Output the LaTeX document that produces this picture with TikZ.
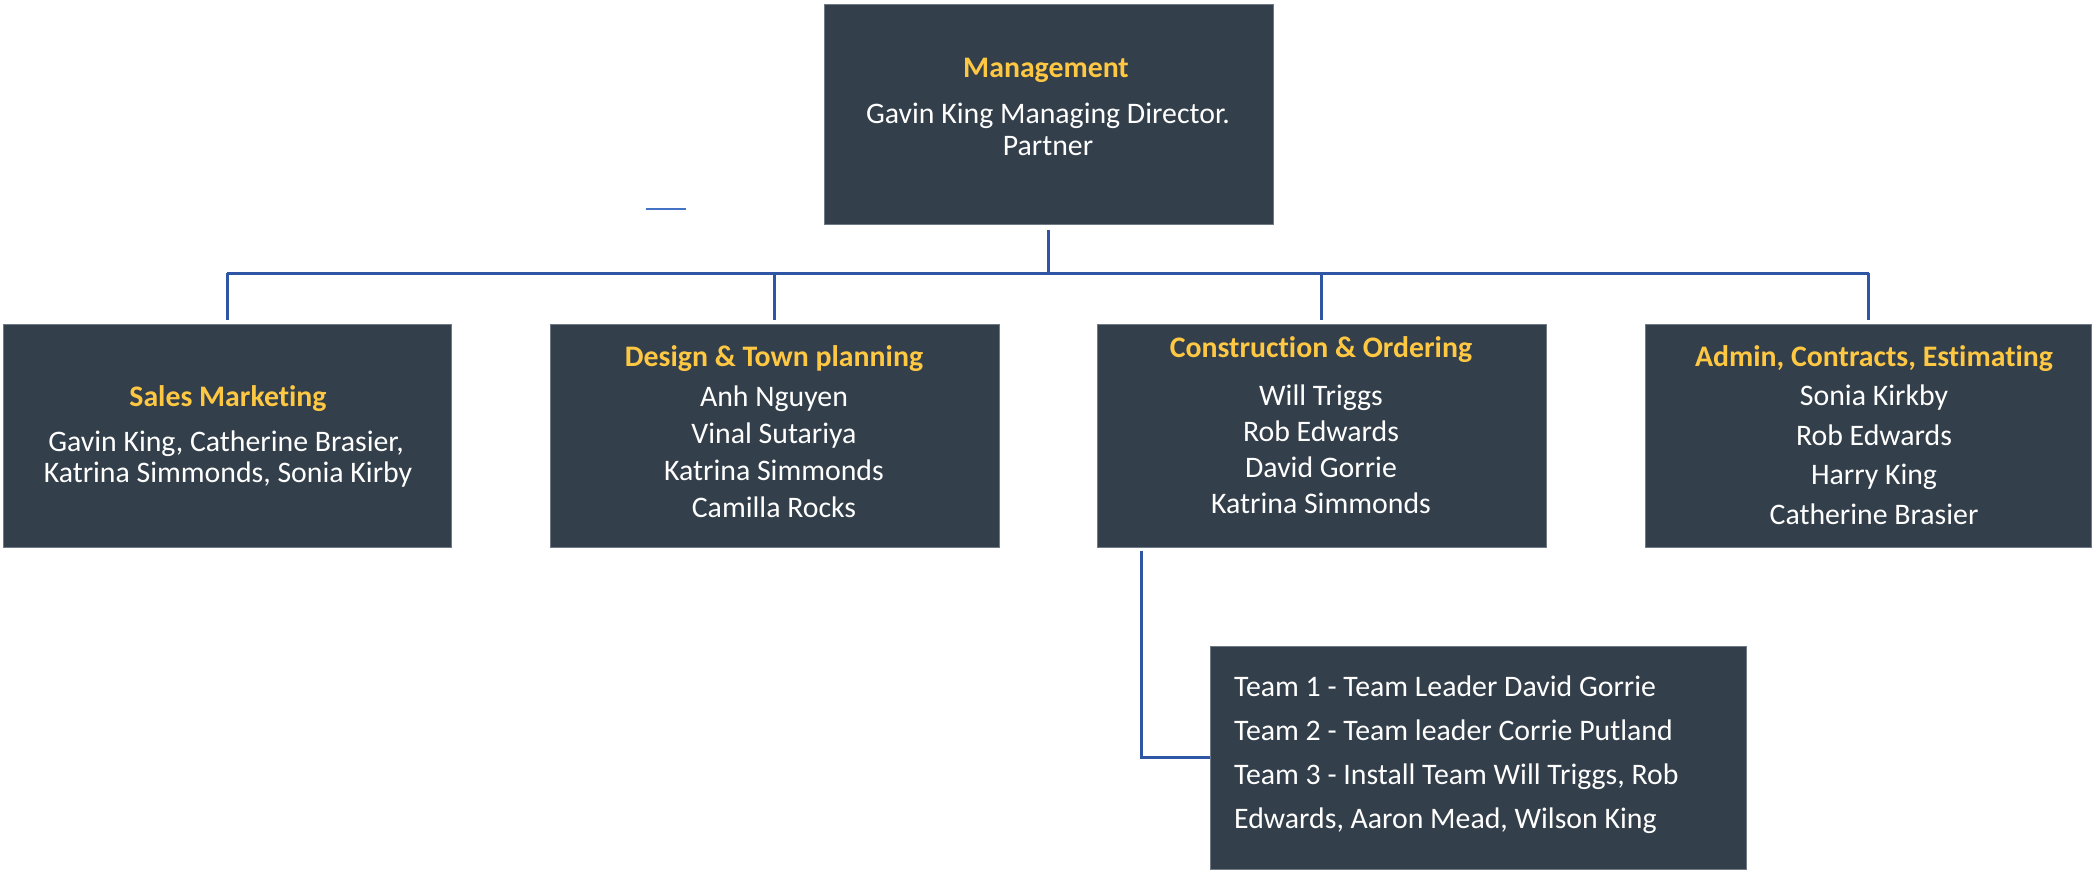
\documentclass[tikz,border=0pt]{standalone}
\usepackage{fontspec}
\setmainfont[Ligatures=NoCommon]{Carlito}
\definecolor{boxfill}{HTML}{333F4A}
\definecolor{boxedge}{HTML}{6F7A85}
\definecolor{titlecol}{HTML}{FFC843}
\definecolor{linecol}{HTML}{2F55A5}
\definecolor{straycol}{HTML}{4472C4}
\begin{document}
\begin{tikzpicture}[x=1pt,y=-1pt,
  box/.style={fill=boxfill, draw=boxedge, line width=0.8pt, anchor=north west, inner sep=0pt},
  ttl/.style={font=\fontsize{29.8}{36}\selectfont\bfseries, text=titlecol, text height=19pt, text depth=0pt, inner sep=0pt},
  txt/.style={font=\fontsize{29.8}{36}\selectfont, text=white, text height=19pt, text depth=0pt, inner sep=0pt},
  conn/.style={draw=linecol, line width=3pt}]
\useasboundingbox (0,0) rectangle (2092,871);
% boxes
\node[box, minimum width=449pt, minimum height=220pt] (mgmt) at (824,4) {};
\node[box, minimum width=448pt, minimum height=223pt] (sales) at (3,324) {};
\node[box, minimum width=449pt, minimum height=223pt] (design) at (550,324) {};
\node[box, minimum width=449pt, minimum height=223pt] (constr) at (1097,324) {};
\node[box, minimum width=446pt, minimum height=223pt] (admin) at (1645,324) {};
\node[box, minimum width=536pt, minimum height=223pt] (team) at (1210,646) {};
% management text
\node[ttl] (mgmtT) at (1046,68) {Management};
\node[txt] (mgmt1) at (1048,114) {Gavin King Managing Director.};
\node[txt] (mgmt2) at (1048,146) {Partner};
% sales
\node[ttl] (salesT) at (228,397) {Sales Marketing};
\node[txt] (sales1) at (226,442) {Gavin King, Catherine Brasier,};
\node[txt] (sales2) at (228,473) {Katrina Simmonds, Sonia Kirby};
% design
\node[ttl] (designT) at (774,357) {Design \& Town planning};
\node[txt] (design1) at (774,397) {Anh Nguyen};
\node[txt] (design2) at (774,434) {Vinal Sutariya};
\node[txt] (design3) at (774,471) {Katrina Simmonds};
\node[txt] (design4) at (774,508) {Camilla Rocks};
% construction
\node[ttl] (constrT) at (1321,348) {Construction \& Ordering};
\node[txt] (constr1) at (1321,396) {Will Triggs};
\node[txt] (constr2) at (1321,432) {Rob Edwards};
\node[txt] (constr3) at (1321,468) {David Gorrie};
\node[txt] (constr4) at (1321,504) {Katrina Simmonds};
% admin
\node[ttl] (adminT) at (1874,357) {Admin, Contracts, Estimating};
\node[txt] (admin1) at (1874,396) {Sonia Kirkby};
\node[txt] (admin2) at (1874,436) {Rob Edwards};
\node[txt] (admin3) at (1874,475) {Harry King};
\node[txt] (admin4) at (1874,515) {Catherine Brasier};
% team
\node[txt, anchor=west] (team1) at (1234,687) {Team 1 - Team Leader David Gorrie};
\node[txt, anchor=west] (team2) at (1234,731) {Team 2 - Team leader Corrie Putland};
\node[txt, anchor=west] (team3) at (1234,775) {Team 3 - Install Team Will Triggs, Rob};
\node[txt, anchor=west] (team4) at (1234,819) {Edwards, Aaron Mead, Wilson King};
% connectors
\coordinate (busL) at (227,273);
\coordinate (busR) at (1869,273);
\draw[conn] (busL) -- (busR);
\draw[conn] ([yshift=-5pt]mgmt.south) -- (mgmt.south |- busL);
\foreach \n in {sales,design,constr,admin}
  \draw[conn] (\n.north |- busL) -- ([yshift=4pt]\n.north);
\draw[conn] ([xshift=44pt,yshift=-3pt]constr.south west) |- (team.west);
% stray short line
\coordinate (strayA) at (646,209);
\coordinate (strayB) at (686,209);
\draw[draw=straycol, line width=2pt] (strayA) -- (strayB);
\end{tikzpicture}
\end{document}
